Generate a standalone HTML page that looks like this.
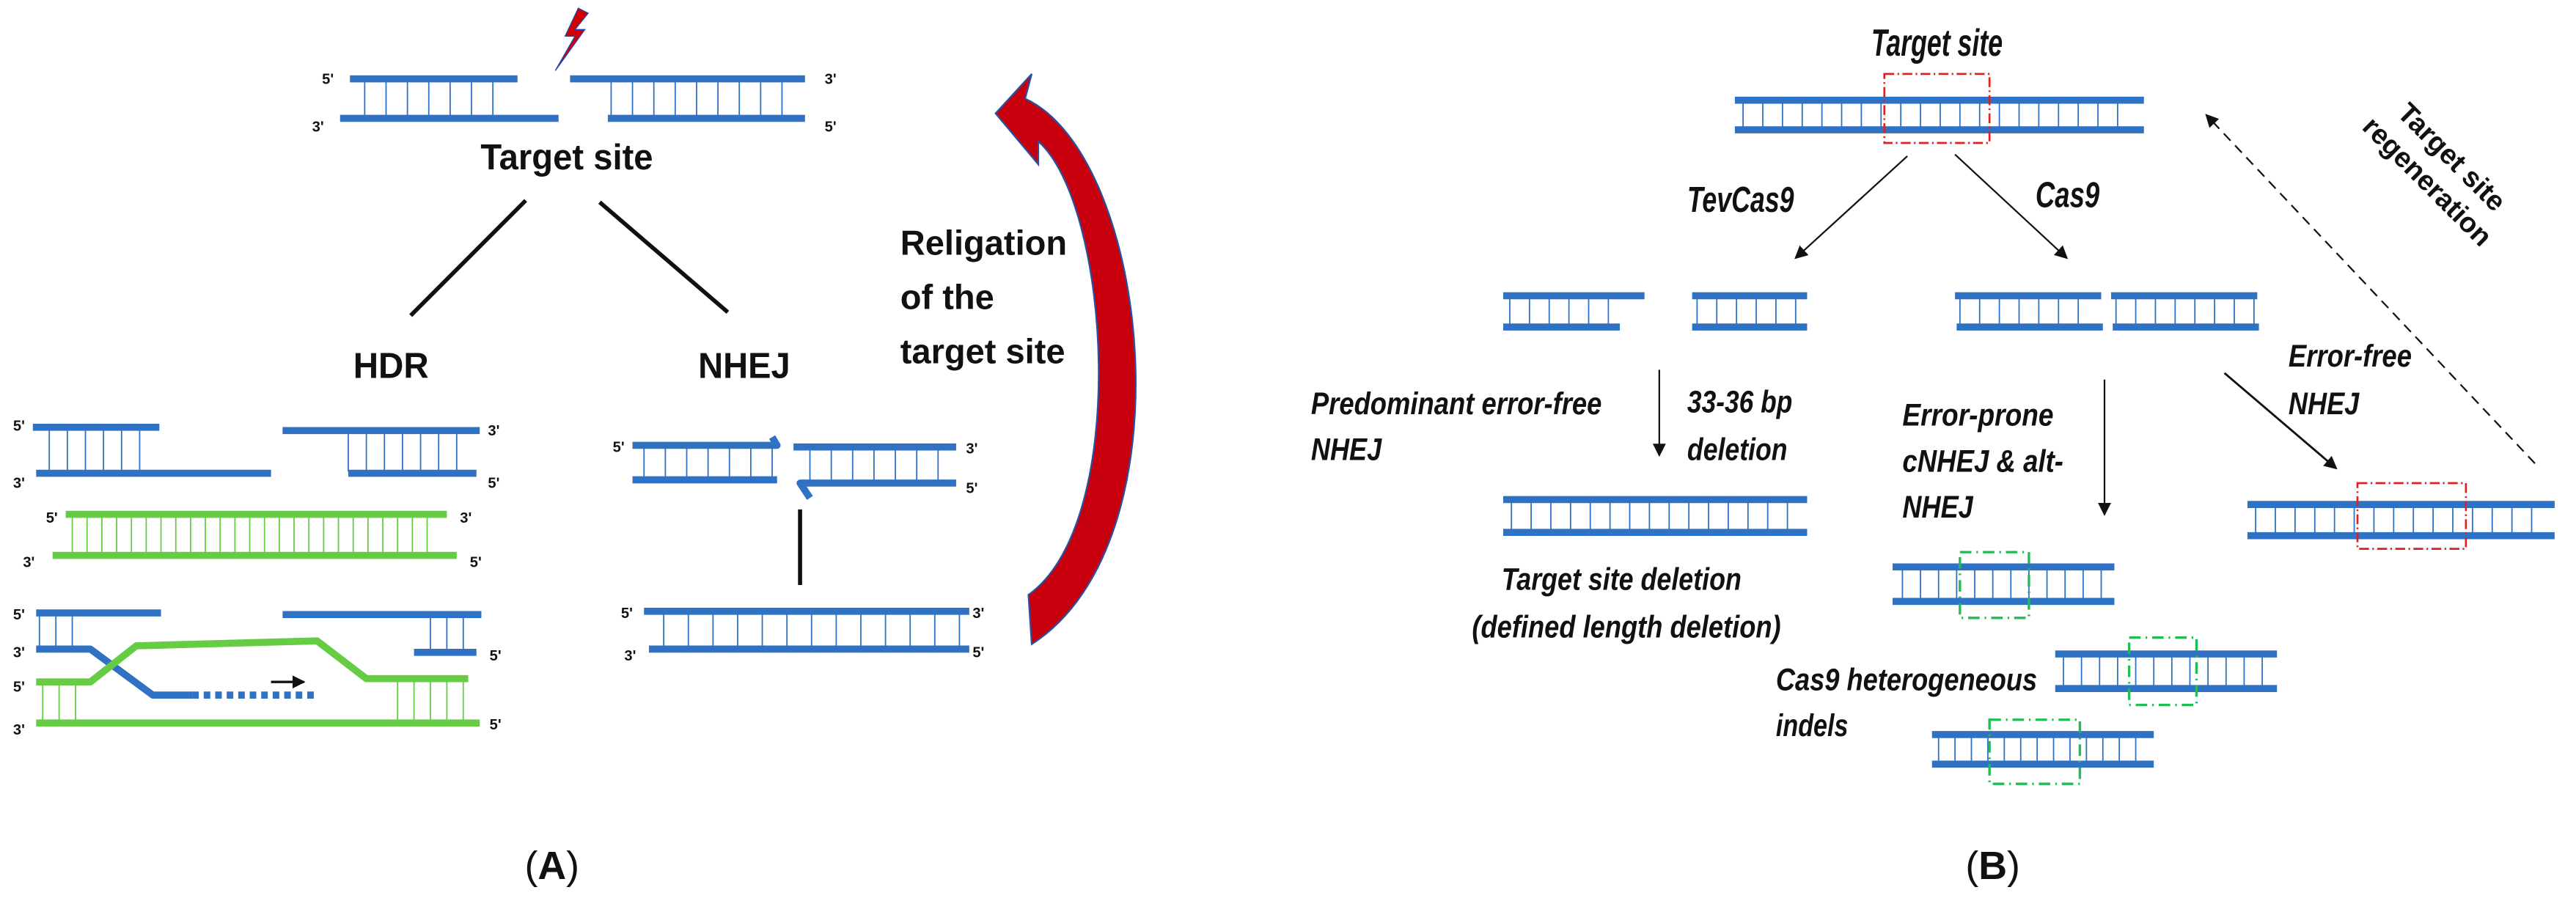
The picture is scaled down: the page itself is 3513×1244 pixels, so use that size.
<!DOCTYPE html>
<html><head><meta charset="utf-8"><style>
html,body{margin:0;padding:0;background:#fff;}
svg{display:block}
text{font-family:"Liberation Sans",sans-serif;}
.b{fill:#111;font-weight:bold}
.i{font-style:italic;fill:#111;font-weight:bold}
.s{font-size:9px;font-weight:bold;fill:#111}
</style></head><body>
<svg id="s" width="3513" height="1244" viewBox="0 0 1568 555" preserveAspectRatio="none" xmlns="http://www.w3.org/2000/svg">
<defs>
<marker id="ah" markerWidth="8" markerHeight="8" refX="7" refY="4" orient="auto" markerUnits="userSpaceOnUse"><path d="M0,0 L8,4 L0,8 z" fill="#111"/></marker>
</defs>
<g id="g"></g>
<!-- Panel A texts -->
<polygon points="352,5 344,22 350,22 338,43 356,18 350,18 358,8" fill="#d40000" stroke="#2244aa" stroke-width="0.6"/>
<text class="s" x="196" y="51">5'</text><text class="s" x="190" y="80">3'</text>
<text class="s" x="502" y="51">3'</text><text class="s" x="502" y="80">5'</text>
<text class="b" x="345" y="103" font-size="22" text-anchor="middle" textLength="105" lengthAdjust="spacingAndGlyphs">Target site</text>
<line x1="320" y1="122" x2="250" y2="192" stroke="#111" stroke-width="2.5"/>
<line x1="365" y1="123" x2="443" y2="190" stroke="#111" stroke-width="2.5"/>
<text class="b" x="238" y="230" font-size="22" text-anchor="middle" textLength="46" lengthAdjust="spacingAndGlyphs">HDR</text>
<text class="b" x="453" y="230" font-size="22" text-anchor="middle" textLength="56" lengthAdjust="spacingAndGlyphs">NHEJ</text>
<text class="b" x="548" y="155" font-size="21">Religation</text>
<text class="b" x="548" y="188" font-size="21">of the</text>
<text class="b" x="548" y="221" font-size="21">target site</text>
<path d="M606,69 L628,45 L624,60 C700,95 725,330 628,392 L626,362 C688,318 676,125 632,86 L632,100 Z" fill="#c8000e" stroke="#2a50a0" stroke-width="1"/>
<!-- HDR labels -->
<text class="s" x="8" y="262">5'</text><text class="s" x="8" y="297">3'</text>
<text class="s" x="297" y="265">3'</text><text class="s" x="297" y="297">5'</text>
<text class="s" x="28" y="318">5'</text><text class="s" x="280" y="318">3'</text>
<text class="s" x="14" y="345">3'</text><text class="s" x="286" y="345">5'</text>
<text class="s" x="8" y="377">5'</text><text class="s" x="8" y="400">3'</text>
<text class="s" x="8" y="421">5'</text><text class="s" x="8" y="447">3'</text>
<text class="s" x="298" y="402">5'</text><text class="s" x="298" y="444">5'</text>
<line x1="165" y1="415" x2="185" y2="415" stroke="#111" stroke-width="1.5" marker-end="url(#ah)"/>
<!-- NHEJ labels -->
<text class="s" x="373" y="275">5'</text><text class="s" x="588" y="276">3'</text>
<text class="s" x="588" y="300">5'</text>
<line x1="487" y1="310" x2="487" y2="356" stroke="#111" stroke-width="2.5"/>
<text class="s" x="378" y="376">5'</text><text class="s" x="592" y="376">3'</text>
<text class="s" x="380" y="402">3'</text><text class="s" x="592" y="400">5'</text>
<text x="336" y="535" font-family="Liberation Serif,serif" font-size="24" text-anchor="middle" fill="#111">(<tspan font-weight="bold">A</tspan>)</text>
<!-- Panel B -->
<text class="i" x="1139" y="34" font-size="23" textLength="80" lengthAdjust="spacingAndGlyphs">Target site</text>
<rect x="1147" y="45" width="64" height="42" fill="none" stroke="#e02020" stroke-width="1.2" stroke-dasharray="6,2,1,2"/>
<line x1="1161" y1="95" x2="1093" y2="157" stroke="#111" stroke-width="1" marker-end="url(#ah)"/>
<line x1="1190" y1="94" x2="1258" y2="157" stroke="#111" stroke-width="1" marker-end="url(#ah)"/>
<text class="i" x="1027" y="129" font-size="22" textLength="65" lengthAdjust="spacingAndGlyphs">TevCas9</text>
<text class="i" x="1239" y="126" font-size="22" textLength="39" lengthAdjust="spacingAndGlyphs">Cas9</text>
<line x1="1543" y1="282" x2="1343" y2="70" stroke="#111" stroke-width="1" stroke-dasharray="6,4" marker-end="url(#ah)"/>
<g transform="translate(1482,106) rotate(45)"><text class="b" x="0" y="-9" font-size="17" text-anchor="middle">Target site</text><text class="b" x="0" y="12" font-size="17" text-anchor="middle">regeneration</text></g>
<text class="i" x="798" y="252" font-size="19" textLength="177" lengthAdjust="spacingAndGlyphs">Predominant error-free</text>
<text class="i" x="798" y="280" font-size="19" textLength="43" lengthAdjust="spacingAndGlyphs">NHEJ</text>
<line x1="1010" y1="225" x2="1010" y2="277" stroke="#111" stroke-width="1" marker-end="url(#ah)"/>
<text class="i" x="1027" y="251" font-size="19" textLength="64" lengthAdjust="spacingAndGlyphs">33-36 bp</text>
<text class="i" x="1027" y="280" font-size="19" textLength="61" lengthAdjust="spacingAndGlyphs">deletion</text>
<text class="i" x="914" y="359" font-size="19" textLength="146" lengthAdjust="spacingAndGlyphs">Target site deletion</text>
<text class="i" x="896" y="388" font-size="19" textLength="188" lengthAdjust="spacingAndGlyphs">(defined length deletion)</text>
<text class="i" x="1158" y="259" font-size="19" textLength="92" lengthAdjust="spacingAndGlyphs">Error-prone</text>
<text class="i" x="1158" y="287" font-size="19" textLength="98" lengthAdjust="spacingAndGlyphs">cNHEJ &amp; alt-</text>
<text class="i" x="1158" y="315" font-size="19" textLength="43" lengthAdjust="spacingAndGlyphs">NHEJ</text>
<line x1="1281" y1="231" x2="1281" y2="313" stroke="#111" stroke-width="1" marker-end="url(#ah)"/>
<text class="i" x="1393" y="223" font-size="19" textLength="75" lengthAdjust="spacingAndGlyphs">Error-free</text>
<text class="i" x="1393" y="252" font-size="19" textLength="43" lengthAdjust="spacingAndGlyphs">NHEJ</text>
<line x1="1354" y1="227" x2="1422" y2="285" stroke="#111" stroke-width="1.3" marker-end="url(#ah)"/>
<rect x="1435" y="294" width="66" height="40" fill="none" stroke="#e02020" stroke-width="1.2" stroke-dasharray="6,2,1,2"/>
<rect x="1193" y="336" width="42" height="40" fill="none" stroke="#22bb55" stroke-width="1.5" stroke-dasharray="7,3,1,3"/>
<rect x="1296" y="388" width="41" height="41" fill="none" stroke="#22bb55" stroke-width="1.5" stroke-dasharray="7,3,1,3"/>
<rect x="1211" y="438" width="55" height="39" fill="none" stroke="#22bb55" stroke-width="1.5" stroke-dasharray="7,3,1,3"/>
<text class="i" x="1081" y="420" font-size="19" textLength="159" lengthAdjust="spacingAndGlyphs">Cas9 heterogeneous</text>
<text class="i" x="1081" y="448" font-size="19" textLength="44" lengthAdjust="spacingAndGlyphs">indels</text>
<text x="1213" y="535" font-family="Liberation Serif,serif" font-size="24" text-anchor="middle" fill="#111">(<tspan font-weight="bold">B</tspan>)</text>
</svg>
<script>
var g=document.getElementById('g'),NS='http://www.w3.org/2000/svg';
var B='#2f72c4',G='#66cc44',W=4.3;
function L(x1,y1,x2,y2,c,w,d){var e=document.createElementNS(NS,'line');e.setAttribute('x1',x1);e.setAttribute('y1',y1);e.setAttribute('x2',x2);e.setAttribute('y2',y2);e.setAttribute('stroke',c);e.setAttribute('stroke-width',w);if(d)e.setAttribute('stroke-dasharray',d);g.appendChild(e);}
function P(pts,c,w,d){var e=document.createElementNS(NS,'polyline');e.setAttribute('points',pts);e.setAttribute('fill','none');e.setAttribute('stroke',c);e.setAttribute('stroke-width',w);e.setAttribute('stroke-linejoin','round');if(d)e.setAttribute('stroke-dasharray',d);g.appendChild(e);}
function R(x1,x2,y1,y2,step,c){for(var x=x1;x<=x2;x+=step)L(x,y1,x,y2,c,0.8);}
function S(x1,x2,y,c){L(x1,y,x2,y,c,W);}
// Panel A top
S(213,315,48,B);S(207,340,72,B);R(222,310,49,71,13,B);
S(347,490,48,B);S(370,490,72,B);R(372,484,49,71,13,B);
// HDR
S(20,97,260,B);S(22,165,288,B);R(30,94,261,287,11,B);
S(172,292,262,B);S(212,290,288,B);R(212,287,263,287,11,B);
S(40,272,313,G);S(32,278,338,G);R(44,268,314,337,9,G);
S(22,98,373,B);S(172,293,374,B);R(24,50,374,395,10,B);R(262,286,375,397,10,B);
S(252,290,397,B);
P('22,395 55,395 93,423 117,423',B,W);L(117,423,192,423,B,W,'4,3');
P('22,415 55,415 83,393 193,390 223,413 285,413',G,W);
S(22,292,440,G);R(26,52,416,439,10,G);R(242,282,414,439,10,G);
// NHEJ
P('385,271 473,271 470,266',B,W);
S(385,473,292,B);R(392,470,272,291,13,B);
S(483,582,272,B);P('493,303 487,294 582,294',B,W);R(493,578,273,293,13,B);
S(392,590,372,B);S(395,590,395,B);R(404,584,373,394,15,B);
// Panel B
S(1056,1305,61,B);S(1056,1305,79,B);R(1061,1300,62,78,12,B);
S(915,1001,180,B);S(915,986,199,B);R(919,983,181,198,12,B);
S(1030,1100,180,B);S(1030,1100,199,B);R(1033,1098,181,198,12,B);
S(1190,1279,180,B);S(1191,1280,199,B);R(1193,1276,181,198,12,B);
S(1285,1374,180,B);S(1286,1375,199,B);R(1288,1372,181,198,12,B);
S(915,1100,304,B);S(915,1100,324,B);R(920,1096,305,323,12,B);
S(1368,1555,307,B);S(1368,1555,326,B);R(1373,1552,308,325,12,B);
S(1152,1287,345,B);S(1152,1287,366,B);R(1158,1283,346,365,11,B);
S(1251,1386,398,B);S(1251,1386,419,B);R(1256,1382,399,418,11,B);
S(1176,1311,447,B);S(1176,1311,465,B);R(1180,1307,448,464,10,B);
</script>
</body></html>
